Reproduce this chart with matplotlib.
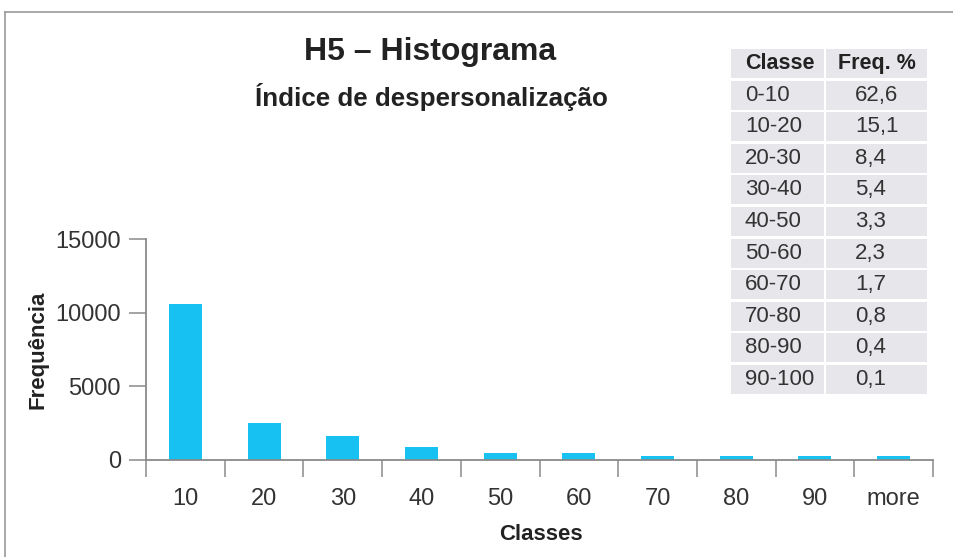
import matplotlib.pyplot as plt
from matplotlib.patches import Rectangle
from matplotlib.lines import Line2D
import numpy as np

plt.rcParams['font.family'] = ['Liberation Sans', 'DejaVu Sans']

# dados
classes = ['10', '20', '30', '40', '50', '60', '70', '80', '90', 'more']
frequencia = [10620, 2530, 1650, 900, 500, 500, 290, 290, 290, 290]

# tabela de frequência percentual
tab_classe = ['0-10', '10-20', '20-30', '30-40', '40-50', '50-60',
              '60-70', '70-80', '80-90', '90-100']
tab_freq = ['62,6', '15,1', '8,4', '5,4', '3,3', '2,3', '1,7', '0,8', '0,4', '0,1']

W, H = 954, 557
fig = plt.figure(figsize=(W / 100, H / 100), dpi=100)

def fx(px):
    return px / W

def fy(py):
    return 1 - py / H

# moldura cinza (aberta à direita e embaixo)
fig.add_artist(Line2D([fx(5.5), fx(5.5)], [fy(12), 0], color='#9a9a9a', lw=1.2))
fig.add_artist(Line2D([fx(5.5), 1], [fy(12), fy(12)], color='#9a9a9a', lw=1.2))

ax = fig.add_axes([fx(146), fy(460), fx(933) - fx(146), fy(239) - fy(460)])
x = np.arange(len(classes))
ax.bar(x, frequencia, width=0.42, color='#17c2f2', zorder=2)

ax.set_xlim(-0.5, len(classes) - 0.5)
ax.set_ylim(0, 15000)
ax.set_yticks([0, 5000, 10000, 15000])

# ticks maiores nas fronteiras, rótulos no centro
ax.set_xticks(np.arange(-0.5, len(classes)), labels=[''] * (len(classes) + 1))
ax.set_xticks(x, labels=classes, minor=True)
ax.tick_params(axis='x', which='major', length=12, width=1.1, color='#8a8a8a')
ax.tick_params(axis='x', which='minor', length=0, pad=20, labelsize=17, labelcolor='#333333')
ax.tick_params(axis='y', length=12, width=1.1, color='#8a8a8a', pad=6,
               labelsize=17, labelcolor='#333333')

for s in ['top', 'right']:
    ax.spines[s].set_visible(False)
for s in ['left', 'bottom']:
    ax.spines[s].set_color('#8a8a8a')
    ax.spines[s].set_linewidth(1.3)

# títulos
fig.text(fx(430), fy(52), 'H5 – Histograma', ha='center', va='center',
         fontsize=23, fontweight='bold', color='#222222')
fig.text(fx(431), fy(97), 'Índice de despersonalização', ha='center', va='center',
         fontsize=18.7, fontweight='bold', color='#222222')
fig.text(fx(38), fy(350), 'Frequência', ha='center', va='center', rotation=90,
         fontsize=16, fontweight='bold', color='#222222')
fig.text(fx(541), fy(535), 'Classes', ha='center', va='center',
         fontsize=16, fontweight='bold', color='#222222')

# tabela
col_x = [(731, 824), (826, 927)]
row_top = 49
row_h = 31.6
cell_h = 29
cor_celula = '#e7e7eb'
linhas = [('Classe', 'Freq. %')] + list(zip(tab_classe, tab_freq))
for i, (c1, c2) in enumerate(linhas):
    y0 = row_top + i * row_h
    for j, (xa, xb) in enumerate(col_x):
        fig.add_artist(Rectangle((fx(xa), fy(y0 + cell_h)), fx(xb) - fx(xa),
                                 fy(y0) - fy(y0 + cell_h), transform=fig.transFigure,
                                 facecolor=cor_celula, edgecolor='none'))
    yc = fy(y0 + cell_h / 2)
    if i == 0:
        fig.text(fx(780), yc, c1, ha='center', va='center', fontsize=15.5,
                 fontweight='bold', color='#222222')
        fig.text(fx(877), yc, c2, ha='center', va='center', fontsize=15.5,
                 fontweight='bold', color='#222222')
    else:
        fig.text(fx(745), yc, c1, ha='left', va='center', fontsize=16, color='#333333')
        fig.text(fx(855), yc, c2, ha='left', va='center', fontsize=16, color='#333333')

fig.savefig('out.png', dpi=100)
